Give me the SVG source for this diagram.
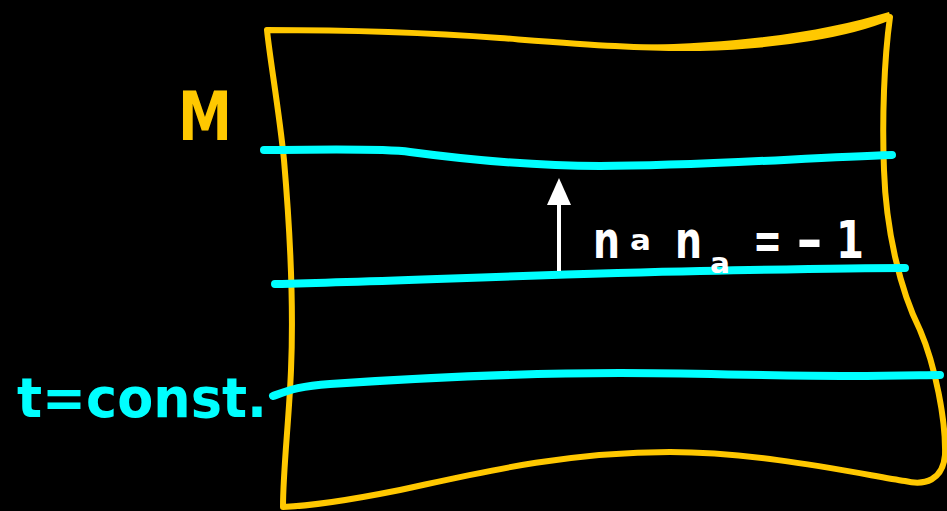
<svg xmlns="http://www.w3.org/2000/svg" width="947" height="511" viewBox="0 0 947 511">
<style>
.frame{fill:none;stroke:#FFC800;stroke-width:6;stroke-linejoin:round;stroke-linecap:round}
.slice{fill:none;stroke:#00FFFF;stroke-width:8;stroke-linecap:round}
.lbl{font-family:"DejaVu Sans","Liberation Sans",sans-serif;font-weight:bold}
.w{fill:#FFFFFF}
</style>
<rect width="947" height="511" fill="#000"/>
<g id="manifold">
<path class="frame" d="M 267 30 C 330 30, 420 32, 500 38 C 580 44, 640 49, 700 48 C 780 46, 850 34, 890 17 C 884 60, 882 120, 884 170 C 886 230, 900 290, 920 330 C 935 365, 946 420, 945 455 C 943 480, 925 486, 905 481 C 860 474, 760 452, 670 452 C 560 452, 470 475, 400 490 C 350 500, 310 506, 283 507 C 283 470, 289 420, 291 370 C 294 300, 290 230, 284 160 C 279 110, 270 60, 267 30 Z"/>
<path fill="#FFC800" d="M 640 45 C 750 43, 830 30, 889 12 L 891 18 C 850 34, 780 46, 700 48 Z"/>
<text class="lbl" x="178" y="140" font-size="68" fill="#FFC800" textLength="54" lengthAdjust="spacingAndGlyphs">M</text>
</g>
<g id="slices">
<path class="slice" d="M 264 150 C 320 150, 380 148, 410 152 C 470 160, 530 166, 600 166 C 700 166, 800 158, 892 155"/>
<path class="slice" d="M 275 284 C 400 281, 550 274, 700 271 C 800 269, 860 268, 905 268"/>
<path class="slice" d="M 273 396 C 290 390, 300 386, 330 384 C 420 378, 520 373, 620 373 C 700 373, 760 376, 850 376 C 900 376, 925 375, 940 375"/>
<text class="lbl" x="17" y="417" font-size="56" fill="#00FFFF" textLength="250" lengthAdjust="spacingAndGlyphs">t=const.</text>
</g>
<g id="normal">
<line x1="559" y1="271" x2="559" y2="200" stroke="#FFFFFF" stroke-width="4"/>
<polygon class="w" points="559,178 547,205 571,205"/>
<text class="lbl w" font-size="52"><tspan x="593" y="258" textLength="27" lengthAdjust="spacingAndGlyphs">n</tspan><tspan x="630" y="250" font-size="28" textLength="21" lengthAdjust="spacingAndGlyphs">a</tspan><tspan x="675" y="258" textLength="27" lengthAdjust="spacingAndGlyphs">n</tspan><tspan x="710" y="273" font-size="28" textLength="20" lengthAdjust="spacingAndGlyphs">a</tspan></text>
<text class="lbl w" font-size="52"><tspan x="753" y="258" textLength="29" lengthAdjust="spacingAndGlyphs">=</tspan><tspan x="796" y="258" textLength="27" lengthAdjust="spacingAndGlyphs">-</tspan><tspan x="836" y="258" textLength="28" lengthAdjust="spacingAndGlyphs">1</tspan></text>
</g>
</svg>
